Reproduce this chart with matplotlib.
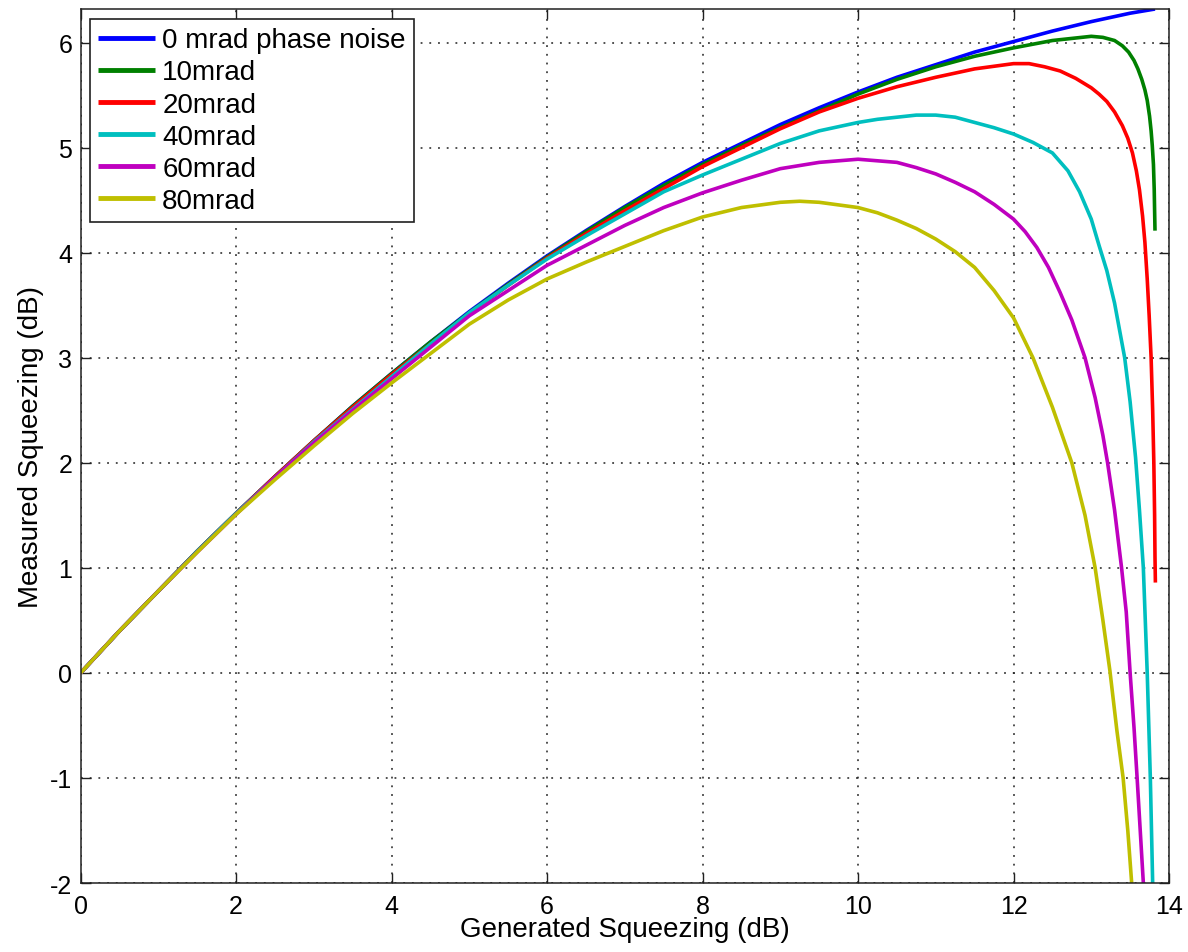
import matplotlib
matplotlib.use("Agg")
import matplotlib.pyplot as plt

plt.rcParams['font.family'] = ['Liberation Sans', 'DejaVu Sans']

# Generated squeezing (dB) vs measured squeezing (dB) for several phase-noise levels
x_0mrad = [0, 0.5, 1, 1.5, 2, 2.5, 3, 3.5, 4, 4.5, 5, 5.5, 6, 6.5, 7, 7.5, 8, 8.5,
           9, 9.5, 10, 10.5, 11, 11.5, 12, 12.5, 13, 13.5, 13.82]
y_0mrad = [0, 0.40, 0.78, 1.16, 1.52, 1.87, 2.21, 2.54, 2.85, 3.15, 3.44, 3.71, 3.97, 4.21,
           4.44, 4.66, 4.86, 5.04, 5.22, 5.38, 5.53, 5.67, 5.79, 5.91, 6.01, 6.11, 6.20, 6.28, 6.32]

x_10mrad = [0, 0.5, 1, 1.5, 2, 2.5, 3, 3.5, 4, 4.5, 5, 5.5, 6, 6.5, 7, 7.5, 8, 8.5,
            9, 9.5, 10, 10.5, 11, 11.5, 12, 12.5, 12.75, 13.0, 13.15, 13.3, 13.4, 13.48,
            13.55, 13.6, 13.65, 13.69, 13.72, 13.75, 13.77, 13.785, 13.8, 13.81, 13.815, 13.82]
y_10mrad = [0, 0.40, 0.78, 1.16, 1.52, 1.87, 2.21, 2.54, 2.85, 3.15, 3.43, 3.70, 3.96, 4.20,
            4.43, 4.64, 4.84, 5.02, 5.19, 5.35, 5.51, 5.65, 5.77, 5.87, 5.95, 6.02, 6.04, 6.06,
            6.05, 6.02, 5.97, 5.91, 5.83, 5.75, 5.65, 5.55, 5.45, 5.30, 5.16, 5.02, 4.84, 4.60,
            4.40, 4.21]

x_20mrad = [0, 0.5, 1, 1.5, 2, 2.5, 3, 3.5, 4, 4.5, 5, 5.5, 6, 6.5, 7, 7.5, 8, 8.5,
            9, 9.5, 10, 10.5, 11, 11.5, 12, 12.2, 12.4, 12.6, 12.8, 13.0, 13.1, 13.2, 13.3,
            13.4, 13.47, 13.53, 13.58, 13.62, 13.66, 13.69, 13.72, 13.745, 13.77, 13.79,
            13.805, 13.815, 13.82, 13.825]
y_20mrad = [0, 0.40, 0.78, 1.16, 1.52, 1.87, 2.21, 2.53, 2.84, 3.13, 3.42, 3.69, 3.95, 4.18,
            4.40, 4.61, 4.82, 5.00, 5.18, 5.34, 5.47, 5.58, 5.67, 5.75, 5.80, 5.80, 5.77, 5.73,
            5.66, 5.57, 5.51, 5.44, 5.34, 5.21, 5.09, 4.95, 4.78, 4.60, 4.35, 4.10, 3.75, 3.40,
            3.00, 2.50, 2.00, 1.50, 1.10, 0.86]

x_40mrad = [0, 0.5, 1, 1.5, 2, 2.5, 3, 3.5, 4, 4.5, 5, 5.5, 6, 6.5, 7, 7.5, 8, 8.5,
            9, 9.5, 10, 10.25, 10.5, 10.75, 11, 11.25, 11.5, 11.75, 12, 12.25, 12.5, 12.7,
            12.85, 13.0, 13.1, 13.2, 13.3, 13.43, 13.5, 13.57, 13.62, 13.67, 13.72, 13.76,
            13.79]
y_40mrad = [0, 0.40, 0.78, 1.16, 1.52, 1.86, 2.20, 2.51, 2.82, 3.13, 3.43, 3.69, 3.94, 4.16,
            4.37, 4.58, 4.74, 4.89, 5.04, 5.16, 5.24, 5.27, 5.29, 5.31, 5.31, 5.29, 5.24, 5.19,
            5.13, 5.05, 4.95, 4.78, 4.58, 4.32, 4.07, 3.83, 3.52, 3.00, 2.58, 2.05, 1.55, 1.00,
            0.00, -1.00, -2.00]

x_60mrad = [0, 0.5, 1, 1.5, 2, 2.5, 3, 3.5, 4, 4.5, 5, 5.5, 6, 6.5, 7, 7.5, 8, 8.5,
            9, 9.5, 10, 10.5, 10.75, 11, 11.25, 11.5, 11.75, 12, 12.15, 12.3, 12.45, 12.6,
            12.75, 12.92, 13.05, 13.15, 13.21, 13.3, 13.39, 13.45, 13.5, 13.55, 13.59, 13.63,
            13.67]
y_60mrad = [0, 0.40, 0.78, 1.15, 1.51, 1.86, 2.19, 2.50, 2.80, 3.10, 3.40, 3.64, 3.88, 4.07,
            4.26, 4.43, 4.57, 4.69, 4.80, 4.86, 4.89, 4.86, 4.81, 4.75, 4.67, 4.58, 4.46, 4.32,
            4.20, 4.05, 3.86, 3.62, 3.36, 3.00, 2.62, 2.26, 2.00, 1.55, 1.00, 0.58, 0.00, -0.52,
            -1.00, -1.50, -2.00]

x_80mrad = [0, 0.5, 1, 1.5, 2, 2.5, 3, 3.5, 4, 4.5, 5, 5.5, 6, 6.5, 7, 7.5, 8, 8.5,
            9, 9.25, 9.5, 10, 10.25, 10.5, 10.75, 11, 11.25, 11.5, 11.75, 12.0, 12.25, 12.5,
            12.75, 12.92, 13.05, 13.15, 13.24, 13.33, 13.41, 13.47, 13.52]
y_80mrad = [0, 0.40, 0.78, 1.15, 1.51, 1.84, 2.16, 2.47, 2.76, 3.04, 3.32, 3.55, 3.75, 3.91,
            4.06, 4.21, 4.34, 4.43, 4.48, 4.49, 4.48, 4.43, 4.38, 4.31, 4.23, 4.13, 4.01, 3.86,
            3.64, 3.38, 3.00, 2.53, 2.00, 1.50, 1.00, 0.50, 0.02, -0.55, -1.00, -1.50, -2.00]

series = [
    (x_0mrad, y_0mrad, '0 mrad phase noise', (0, 0, 1)),
    (x_10mrad, y_10mrad, '10mrad', (0, 0.5, 0)),
    (x_20mrad, y_20mrad, '20mrad', (1, 0, 0)),
    (x_40mrad, y_40mrad, '40mrad', (0, 0.75, 0.75)),
    (x_60mrad, y_60mrad, '60mrad', (0.75, 0, 0.75)),
    (x_80mrad, y_80mrad, '80mrad', (0.75, 0.75, 0)),
]

x_ticks = [0, 2, 4, 6, 8, 10, 12, 14]
y_ticks = [-2, -1, 0, 1, 2, 3, 4, 5, 6]

fig = plt.figure(figsize=(11.88, 9.53), dpi=100)
ax = fig.add_axes([0.0679, 0.0724, 0.9161, 0.9171])

for xs, ys, label, color in series:
    ax.plot(xs, ys, color=color, linewidth=2.6, label=label,
            solid_capstyle='butt', solid_joinstyle='round')

ax.set_xlim(0, 14)
ax.set_ylim(-2, 6.32)
ax.set_xticks(x_ticks)
ax.set_yticks(y_ticks)
ax.set_xticklabels([str(t) for t in x_ticks])
ax.set_yticklabels([str(t) for t in y_ticks])

ax.grid(True, color='#202020', linestyle=(0, (1.2, 4.5)), linewidth=1.1)
ax.tick_params(direction='in', length=7, width=1, top=True, right=True,
               labelsize=18, colors='#202020', labelcolor='black')
ax.tick_params(axis='x', pad=8)
ax.tick_params(axis='y', pad=6)
for sp in ax.spines.values():
    sp.set_linewidth(1.1)
    sp.set_color('#202020')

ax.set_xlabel('Generated Squeezing (dB)', fontsize=20)
ax.xaxis.set_label_coords(0.5, -0.038)
ax.set_ylabel('Measured Squeezing (dB)', fontsize=20)
ax.yaxis.set_label_coords(-0.034, 0.5)

leg = ax.legend(loc='upper left', bbox_to_anchor=(0.0085, 0.9886), borderaxespad=0,
                fontsize=20, handlelength=2.05, handletextpad=0.25, labelspacing=0.22,
                borderpad=0.3, fancybox=False, framealpha=1, edgecolor='#202020')
leg.get_frame().set_linewidth(1.2)
for line in leg.get_lines():
    line.set_linewidth(3.5)

fig.savefig('out.png', dpi=100)
